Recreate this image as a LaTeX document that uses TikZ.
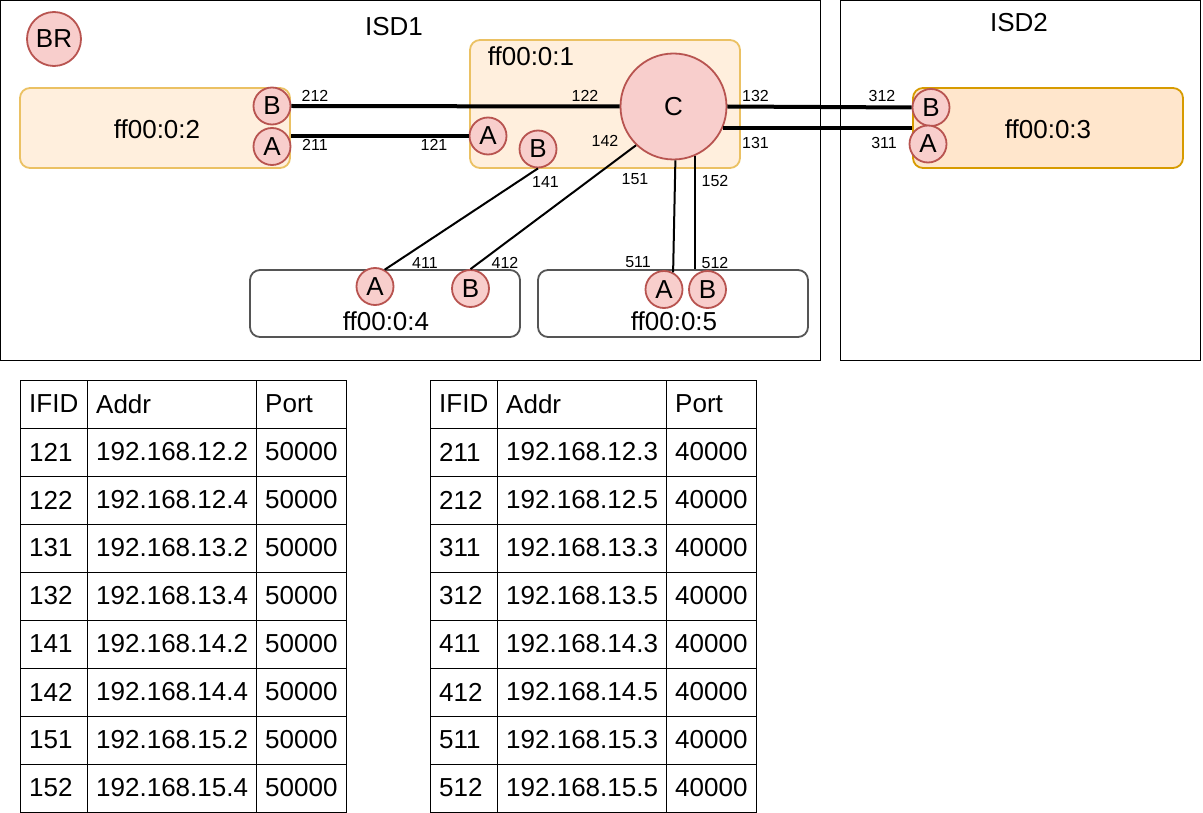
\documentclass[tikz,border=0pt]{standalone}
\usepackage{fontspec}
\setmainfont{Liberation Sans}
\newcommand\fsbig{\fontsize{26}{30}\selectfont}
\newcommand\fssmall{\fontsize{16}{19}\selectfont}
\definecolor{brf}{HTML}{F8CECC}
\definecolor{brd}{HTML}{B85450}
\definecolor{asf}{HTML}{FFEFDD}
\definecolor{asd}{HTML}{EBC163}
\definecolor{asfb}{HTML}{FFE6CC}
\definecolor{asdb}{HTML}{D79B00}
\definecolor{grayd}{HTML}{555555}
\begin{document}
\begin{tikzpicture}[x=1pt,y=-1pt,
  isd/.style={draw=black,line width=1pt},
  br/.style={circle,draw=brd,fill=brf,line width=1.8pt,minimum size=37pt,inner sep=0pt,font=\fsbig},
  asbox/.style={draw=asd,fill=asf,line width=1.8pt,rounded corners=10pt,minimum width=270pt,inner sep=0pt,font=\fsbig},
  asboxb/.style={draw=asdb,fill=asfb,line width=1.8pt,rounded corners=10pt,minimum width=270pt,inner sep=0pt,font=\fsbig},
  grbox/.style={draw=grayd,fill=white,line width=1.8pt,rounded corners=10pt,minimum width=270pt,minimum height=67pt,inner sep=0pt},
  big/.style={font=\fsbig,inner sep=0pt},
  lbl/.style={font=\fssmall,inner sep=0pt},
  thickln/.style={line width=4pt},
  thinln/.style={line width=2pt},
  tline/.style={line width=1pt},
  cell/.style={font=\fsbig,inner sep=0pt,anchor=west}]
\useasboundingbox (0,0) rectangle (1203,813);
% ISD frames
\draw[isd] (0.5,0.5) rectangle (820,360);
\draw[isd] (840,0.5) rectangle (1200,360);
\node[big] (isd1) at (394,27) {ISD1};
\node[big] (isd2) at (1019,23) {ISD2};
\node[br,minimum size=54pt] (br) at (54,39) {BR};
% AS boxes
\node[asbox,minimum height=80pt] (as2) at (155,128) {};
\node[big] (as2l) at (157,129) {ff00:0:2};
\node[asbox,minimum height=128pt] (as1) at (605,104) {};
\node[big] (as1l) at (531,56) {ff00:0:1};
\node[asboxb,minimum height=80pt] (as3) at (1048,128) {};
\node[big] (as3l) at (1048,129) {ff00:0:3};
\node[grbox] (as4) at (385,303.5) {};
\node[big] (as4l) at (386,321) {ff00:0:4};
\node[grbox] (as5) at (673,303.5) {};
\node[big] (as5l) at (674,321) {ff00:0:5};
% border routers
\node[br] (b2) at (272,106) {B};
\node[br] (a2) at (272,146.5) {A};
\node[br,minimum size=106pt] (c1) at (673.5,106.5) {C};
\node[br] (a1) at (488,136) {A};
\node[br] (b1) at (538,149) {B};
\node[br] (b3) at (931,107.5) {B};
\node[br] (a3) at (928,144) {A};
\node[br] (a4) at (375,286.5) {A};
\node[br] (b4) at (470.5,288.5) {B};
\node[br] (a5) at (664,289.5) {A};
\node[br] (b5) at (707.5,289.5) {B};
% links
\draw[thickln] (b2.east) -- (c1.west);
\draw[thickln] (a2.east |- a1.west) -- (a1.west);
\draw[thickln] (c1.east) -- (b3.west);
\draw[thickln] (c1.-24.5) -- (c1.-24.5 -| as3.west);
\draw[thinln] (b1.south) -- (a4.60);
\draw[thinln] (c1.-134) -- (b4.north);
\draw[thinln] (c1.-88.5) -- (a5.62);
\draw[thinln] (c1.-66.5) -- (c1.-66.5 |- as5.north);
% interface labels
\node[lbl] (l212) at (315,96) {212};
\node[lbl] (l211) at (315,145) {211};
\node[lbl] (l122) at (585,96) {122};
\node[lbl] (l121) at (434,145) {121};
\node[lbl] (l132) at (755.5,96) {132};
\node[lbl] (l131) at (755.5,143) {131};
\node[lbl] (l312) at (882,96) {312};
\node[lbl] (l311) at (884,143) {311};
\node[lbl] (l142) at (605,141) {142};
\node[lbl] (l141) at (545.5,182) {141};
\node[lbl] (l151) at (635,179) {151};
\node[lbl] (l152) at (715,180.5) {152};
\node[lbl] (l411) at (425,262.5) {411};
\node[lbl] (l412) at (505,262.5) {412};
\node[lbl] (l511) at (638,262.5) {511};
\node[lbl] (l512) at (715,262.5) {512};
% left table
\draw[tline] (20,380) rectangle (346,812);
\draw[tline] (87,380) -- (87,812) (256,380) -- (256,812);
\foreach \k in {1,...,8} {\draw[tline] (20,{380+48*\k}) -- (346,{380+48*\k});}
\foreach [count=\r] \a/\b/\c in {IFID/Addr/Port,121/192.168.12.2/50000,122/192.168.12.4/50000,131/192.168.13.2/50000,132/192.168.13.4/50000,141/192.168.14.2/50000,142/192.168.14.4/50000,151/192.168.15.2/50000,152/192.168.15.4/50000} {
  \node[cell] (la\r) at (29,{404+48*(\r-1)}) {\a};
  \node[cell] (lb\r) at (96,{404+48*(\r-1)}) {\b};
  \node[cell] (lc\r) at (265,{404+48*(\r-1)}) {\c};
}
% right table
\draw[tline] (430,380) rectangle (756,812);
\draw[tline] (497,380) -- (497,812) (666,380) -- (666,812);
\foreach \k in {1,...,8} {\draw[tline] (430,{380+48*\k}) -- (756,{380+48*\k});}
\foreach [count=\r] \a/\b/\c in {IFID/Addr/Port,211/192.168.12.3/40000,212/192.168.12.5/40000,311/192.168.13.3/40000,312/192.168.13.5/40000,411/192.168.14.3/40000,412/192.168.14.5/40000,511/192.168.15.3/40000,512/192.168.15.5/40000} {
  \node[cell] (ra\r) at (439,{404+48*(\r-1)}) {\a};
  \node[cell] (rb\r) at (506,{404+48*(\r-1)}) {\b};
  \node[cell] (rc\r) at (675,{404+48*(\r-1)}) {\c};
}
\end{tikzpicture}
\end{document}
